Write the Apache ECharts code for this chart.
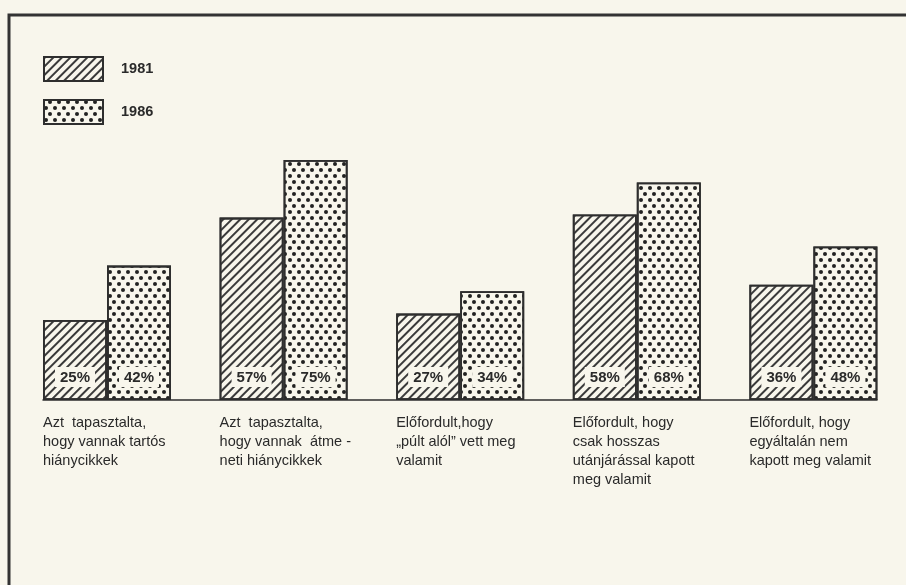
<!DOCTYPE html>
<html>
<head>
<meta charset="utf-8">
<script src="https://cdn.jsdelivr.net/npm/echarts@6/dist/echarts.min.js"></script>
<style>
html, body { margin: 0; padding: 0; background: #f8f6ec; }
#main { width: 906px; height: 585px; }
</style>
</head>
<body>
<div id="main"></div>
<script>
// categories, line breaks like in the print
var categories = [
    'Azt  tapasztalta,\nhogy vannak tartós\nhiánycikkek',
    'Azt  tapasztalta,\nhogy vannak  átme -\nneti hiánycikkek',
    'Előfordult,hogy\n„púlt alól” vett meg\nvalamit',
    'Előfordult, hogy\ncsak hosszas\nutánjárással kapott\nmeg valamit',
    'Előfordult, hogy\negyáltalán nem\nkapott meg valamit'
];
var years = ['1981', '1986'];
var data1981 = [25, 57, 27, 58, 36];
var data1986 = [42, 75, 34, 68, 48];

var bgColor = '#f8f6ec';
var inkColor = '#2e2e2e';

var myChart = echarts.init(document.getElementById('main'));

// hatch for 1981, dots for 1986
var hatchDecal = {
    symbol: 'rect',
    symbolSize: 1,
    color: '#3a3a3a',
    dashArrayX: [1, 0],
    dashArrayY: [1.1, 3.1],
    rotation: -Math.PI / 4
};
var dotDecal = {
    symbol: 'circle',
    symbolSize: 1,
    color: '#222',
    dashArrayX: [[3.1, 4.9], [0, 4, 3.1, 0.9]],
    dashArrayY: [3.1, 1.2]
};

var valueLabel = {
    show: true,
    position: 'insideBottom',
    distance: 13,
    formatter: '{c}%',
    color: '#2a2a2a',
    fontSize: 15,
    fontWeight: 'bold',
    fontFamily: 'Liberation Sans, Arial, sans-serif',
    backgroundColor: bgColor,
    padding: [3, 5, 2, 5]
};

var option = {
    backgroundColor: bgColor,
    animation: false,
    legend: {
        orient: 'vertical',
        left: 38,
        top: 51,
        itemWidth: 59,
        itemHeight: 24,
        itemGap: 17,
        icon: 'rect',
        data: years,
        textStyle: {
            color: '#2a2a2a',
            fontSize: 14.5,
            fontWeight: 'bold',
            fontFamily: 'Liberation Sans, Arial, sans-serif',
            padding: [0, 0, 0, 13]
        }
    },
    grid: [{
        left: 18.7,
        right: 4.3,
        top: 80,
        bottom: 185
    }, {
        // only for the base line under the bars
        left: 43,
        right: 29,
        top: 80,
        bottom: 185
    }],
    xAxis: [{
        type: 'category',
        gridIndex: 0,
        data: categories,
        axisLine: { show: false },
        axisTick: { show: false },
        axisLabel: {
            interval: 0,
            margin: 13,
            width: 128,
            overflow: 'none',
            formatter: function (value) {
                return value.split('\n').map(function (l) {
                    return '{a|' + l + '}';
                }).join('\n');
            },
            rich: {
                a: {
                    align: 'left',
                    color: '#2a2a2a',
                    fontSize: 14.5,
                    lineHeight: 19,
                    fontFamily: 'Liberation Sans, Arial, sans-serif'
                }
            }
        }
    }, {
        type: 'value',
        gridIndex: 1,
        min: 0,
        max: 1,
        axisLine: { show: true, lineStyle: { color: inkColor, width: 1.5 } },
        axisTick: { show: false },
        axisLabel: { show: false },
        splitLine: { show: false }
    }],
    yAxis: [{
        type: 'value',
        gridIndex: 0,
        min: 0,
        max: 100,
        show: false
    }, {
        type: 'value',
        gridIndex: 1,
        min: 0,
        max: 100,
        show: false
    }],
    series: [{
        name: years[0],
        type: 'bar',
        barWidth: 64,
        barGap: '0%',
        data: data1981,
        itemStyle: {
            color: bgColor,
            borderColor: inkColor,
            borderWidth: 1.8,
            decal: hatchDecal
        },
        label: valueLabel
    }, {
        name: years[1],
        type: 'bar',
        barWidth: 64,
        barGap: '0%',
        data: data1986,
        itemStyle: {
            color: bgColor,
            borderColor: inkColor,
            borderWidth: 1.8,
            decal: dotDecal
        },
        label: valueLabel
    }],
    graphic: [{
        // frame of the printed figure
        type: 'polyline',
        shape: { points: [[9, 585], [9, 15], [906, 15]] },
        style: { stroke: '#333', lineWidth: 3, fill: null }
    }]
};

myChart.setOption(option);
</script>
</body>
</html>
